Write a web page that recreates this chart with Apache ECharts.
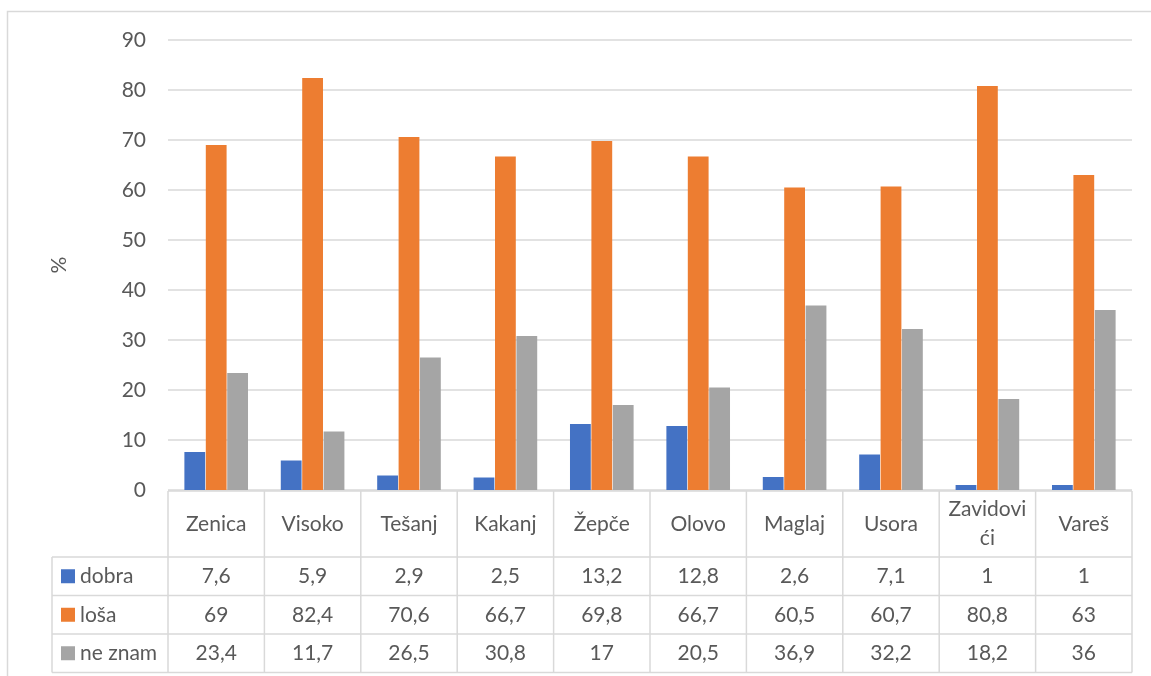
<!DOCTYPE html>
<html>
<head>
<meta charset="utf-8">
<script src="https://cdn.jsdelivr.net/npm/echarts@6/dist/echarts.min.js"></script>
<style>
  html, body { margin: 0; padding: 0; background: #fff; }
  #chart { width: 1151px; height: 676px; }
</style>
</head>
<body>
<div id="chart"></div>
<script>
var categories = ['Zenica', 'Visoko', 'Tešanj', 'Kakanj', 'Žepče', 'Olovo', 'Maglaj', 'Usora', 'Zavidovići', 'Vareš'];
var seriesNames = ['dobra', 'loša', 'ne znam'];
var dobra = [7.6, 5.9, 2.9, 2.5, 13.2, 12.8, 2.6, 7.1, 1, 1];
var losa = [69, 82.4, 70.6, 66.7, 69.8, 66.7, 60.5, 60.7, 80.8, 63];
var neZnam = [23.4, 11.7, 26.5, 30.8, 17, 20.5, 36.9, 32.2, 18.2, 36];
var colors = ['#4472C4', '#ED7D31', '#A5A5A5'];

var FONT = 'Lato';
var FS = 21;
var TXT = '#595959';
var LINE = '#d9d9d9';

var chart = echarts.init(document.getElementById('chart'));

function fmt(v) {
    return String(v).replace('.', ',');
}

var allData = [dobra, losa, neZnam];

var option = {
    animation: false,
    textStyle: { fontFamily: FONT },
    grid: { left: 168, right: 19, top: 40, bottom: 186, containLabel: false },
    xAxis: {
        type: 'category',
        data: categories,
        axisLine: { show: false },
        axisTick: { show: false },
        axisLabel: {
            color: TXT,
            fontSize: FS,
            fontFamily: FONT,
            margin: 34,
            verticalAlign: 'middle',
            lineHeight: 29,
            interval: 0,
            formatter: function (v) {
                return v.length > 9 ? v.slice(0, 8) + '\n' + v.slice(8) : v;
            }
        }
    },
    yAxis: {
        type: 'value',
        min: 0,
        max: 90,
        interval: 10,
        name: '%',
        nameLocation: 'middle',
        nameGap: 98,
        nameTextStyle: { color: TXT, fontSize: FS, fontFamily: FONT },
        axisLine: { show: false },
        axisTick: { show: false },
        axisLabel: { color: TXT, fontSize: FS, fontFamily: FONT, margin: 22 },
        splitLine: { lineStyle: { color: LINE, width: 1.5 } }
    },
    series: seriesNames.map(function (n, i) {
        return {
            name: n,
            type: 'bar',
            data: allData[i],
            barGap: '3%',
            barCategoryGap: '34%',
            itemStyle: { color: colors[i] }
        };
    })
};

chart.setOption(option);

// data table below the plot
var c0 = chart.convertToPixel({ xAxisIndex: 0 }, 0);
var step = chart.convertToPixel({ xAxisIndex: 0 }, 1) - c0;
var left = c0 - step / 2;
var right = left + step * categories.length;
var yTop = chart.convertToPixel({ yAxisIndex: 0 }, 0) + 1;
var headH = 66;
var rowH = 38.5;
var tableLeft = 52;
var yRows = [yTop + headH, yTop + headH + rowH, yTop + headH + 2 * rowH, yTop + headH + 3 * rowH];

var g = [];
var ls = { stroke: LINE, lineWidth: 1.5 };
// outer frame
g.push({ type: 'rect', shape: { x: 7.5, y: 11.5, width: 1170, height: 700 }, style: { fill: 'none', stroke: LINE, lineWidth: 1.5 }, silent: true });
// horizontal lines
g.push({ type: 'line', shape: { x1: left, y1: yTop, x2: right, y2: yTop }, style: ls });
yRows.forEach(function (y) {
    g.push({ type: 'line', shape: { x1: tableLeft, y1: y, x2: right, y2: y }, style: ls });
});
// vertical lines
g.push({ type: 'line', shape: { x1: tableLeft, y1: yRows[0], x2: tableLeft, y2: yRows[3] }, style: ls });
for (var k = 0; k <= categories.length; k++) {
    var x = left + k * step;
    g.push({ type: 'line', shape: { x1: x, y1: yTop, x2: x, y2: yRows[3] }, style: ls });
}
// row labels and values
seriesNames.forEach(function (n, i) {
    var cy = (yRows[i] + yRows[i + 1]) / 2;
    g.push({ type: 'rect', shape: { x: 61, y: cy - 7, width: 14, height: 14 }, style: { fill: colors[i] } });
    g.push({ type: 'text', x: 80, y: cy, style: { text: n, fill: TXT, font: FS + 'px ' + FONT, verticalAlign: 'middle', align: 'left' } });
    allData[i].forEach(function (v, j) {
        g.push({ type: 'text', x: left + (j + 0.5) * step, y: cy, style: { text: fmt(v), fill: TXT, font: FS + 'px ' + FONT, verticalAlign: 'middle', align: 'center' } });
    });
});

chart.setOption({ graphic: { elements: g } });
</script>
</body>
</html>
